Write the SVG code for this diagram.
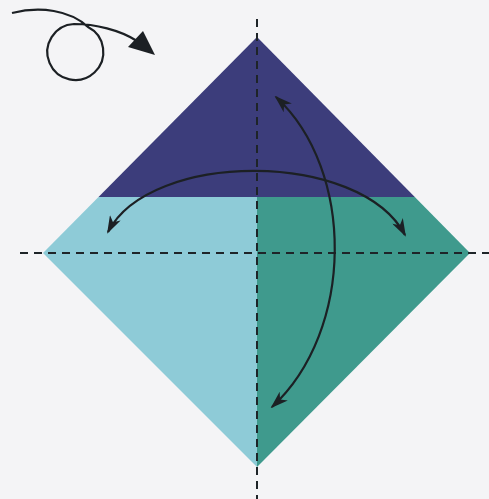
<svg xmlns="http://www.w3.org/2000/svg" width="489" height="499" viewBox="0 0 489 499">
  <defs>
    <marker id="ah" viewBox="0 0 18 12" refX="16" refY="6" markerWidth="18" markerHeight="12" markerUnits="userSpaceOnUse" orient="auto-start-reverse">
      <path d="M0,0 L18,6 L0,12 L5,6 z" fill="#1c2024"/>
    </marker>
  </defs>
  <style>
    .dash { stroke: #1e2428; stroke-width: 2; stroke-dasharray: 8 6; fill: none; }
    .arc { stroke: #1c2024; stroke-width: 2.2; fill: none; }
  </style>
  <rect width="489" height="499" fill="#f4f4f6"/>
  <g id="paper">
    <polygon points="257,37 414.8,197 98.5,197" fill="#3c3d7b"/>
    <polygon points="98.5,197 257,197 257,467 43,253" fill="#8ecbd7"/>
    <polygon points="257,197 414.8,197 470,253 257,467" fill="#3f9a8d"/>
  </g>
  <g id="folds">
    <line class="dash" x1="257" y1="19" x2="257" y2="499"/>
    <line class="dash" x1="20" y1="253" x2="489" y2="253"/>
  </g>
  <g id="arrows">
    <path class="arc" d="M108,232 C150,150 360,150 405,235" marker-start="url(#ah)" marker-end="url(#ah)"/>
    <path class="arc" d="M276,97 C355,170 355,330 272,407" marker-start="url(#ah)" marker-end="url(#ah)"/>
    <path class="arc" d="M12,13 C40,6 70,10 88,27 A28,28 0 1 1 74,24 C95,24 120,30 137,41"/>
    <polygon points="128,47 143,31 155,55" fill="#1c2024"/>
  </g>
</svg>
